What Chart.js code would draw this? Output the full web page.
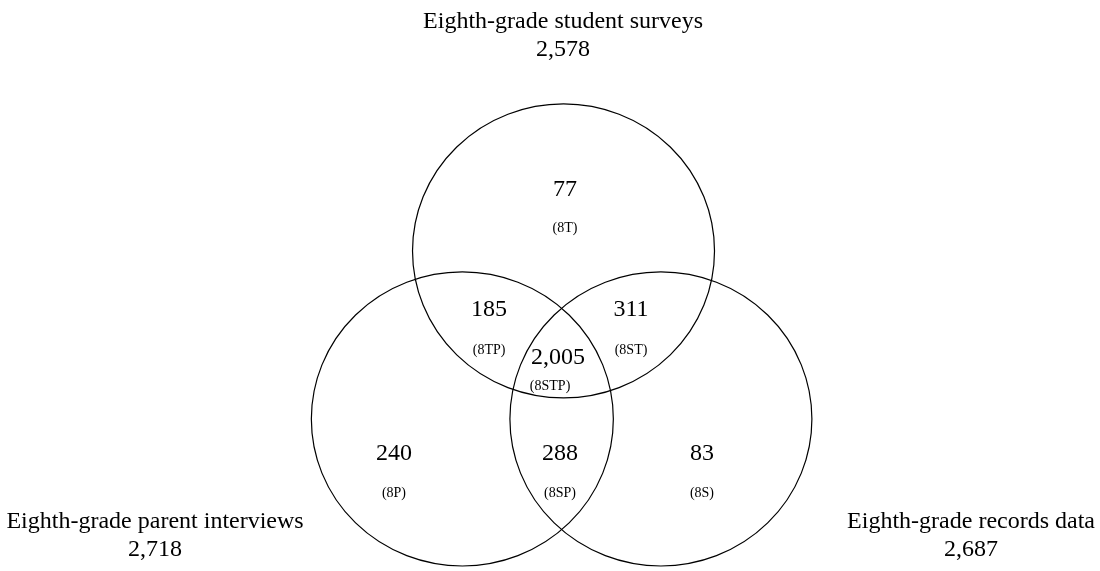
<!DOCTYPE html>
<html>
<head>
<meta charset="utf-8">
<script src="https://cdn.jsdelivr.net/npm/chart.js@4.4.1/dist/chart.umd.min.js"></script>
<style>
  html, body { margin: 0; padding: 0; background: #fff; }
  #wrap { width: 1100px; height: 571px; }
</style>
</head>
<body>
<div id="wrap"><canvas id="canvas"></canvas></div>
<script>
// data
var setNames = ['Eighth-grade student surveys', 'Eighth-grade parent interviews', 'Eighth-grade records data']
var setTotals = ['2,578', '2,718', '2,687']
var regionCodes = ['(8T)', '(8TP)', '(8ST)', '(8STP)', '(8P)', '(8SP)', '(8S)']
var regionCounts = ['77', '185', '311', '2,005', '240', '288', '83']

// layout, in circle-radius units
var circleCenters = [{x: 0.01, y: 0.762}, {x: -0.66, y: -0.381}, {x: 0.655, y: -0.381}]
var countPos = [[0.02, 1.177], [-0.483, 0.361], [0.457, 0.361], [-0.026, 0.034], [-1.113, -0.619], [-0.013, -0.619], [0.927, -0.619]]
var codePos = [[0.02, 0.918], [-0.483, 0.088], [0.457, 0.088], [-0.079, -0.156], [-1.113, -0.884], [-0.013, -0.884], [0.927, -0.884]]
var namePos = [[0.007, 2.32], [-2.695, -1.078], [2.709, -1.078]]

var serif = '"Liberation Serif", "DejaVu Serif", serif'

var venn = {
  id: 'venn',
  afterDatasetsDraw: function(chart) {
    var c = chart.ctx
    var xs = chart.scales.x, ys = chart.scales.y
    var rx = xs.getPixelForValue(1) - xs.getPixelForValue(0)
    var ry = ys.getPixelForValue(0) - ys.getPixelForValue(1)
    c.save()
    c.strokeStyle = '#000'
    c.lineWidth = 1.2
    circleCenters.forEach(function(p) {
      c.beginPath()
      c.ellipse(xs.getPixelForValue(p.x), ys.getPixelForValue(p.y), rx, ry, 0, 0, Math.PI * 2)
      c.stroke()
    })
    c.fillStyle = '#000'
    c.textAlign = 'center'
    c.textBaseline = 'middle'
    c.font = '24px ' + serif
    regionCounts.forEach(function(t, i) {
      c.fillText(t, xs.getPixelForValue(countPos[i][0]), ys.getPixelForValue(countPos[i][1]))
    })
    c.font = '14px ' + serif
    regionCodes.forEach(function(t, i) {
      c.fillText(t, xs.getPixelForValue(codePos[i][0]), ys.getPixelForValue(codePos[i][1]))
    })
    c.font = '24px ' + serif
    setNames.forEach(function(t, i) {
      var px = xs.getPixelForValue(namePos[i][0])
      var py = ys.getPixelForValue(namePos[i][1])
      c.fillText(t, px, py)
      c.fillText(setTotals[i], px, py + 28)
    })
    c.restore()
  }
}

var ctx = document.getElementById('canvas').getContext('2d')
var myChart = new Chart(ctx, {
  type: 'scatter',
  data: {
    datasets: [{
      data: circleCenters,
      pointRadius: 0,
      pointHoverRadius: 0
    }]
  },
  options: {
    responsive: true,
    maintainAspectRatio: false,
    animation: false,
    layout: { padding: 0 },
    plugins: { legend: { display: false }, tooltip: { enabled: false } },
    scales: {
      x: { type: 'linear', display: false, min: -3.722, max: 3.563 },
      y: { type: 'linear', display: false, min: -1.415, max: 2.469 }
    }
  },
  plugins: [venn]
})
</script>
</body>
</html>
